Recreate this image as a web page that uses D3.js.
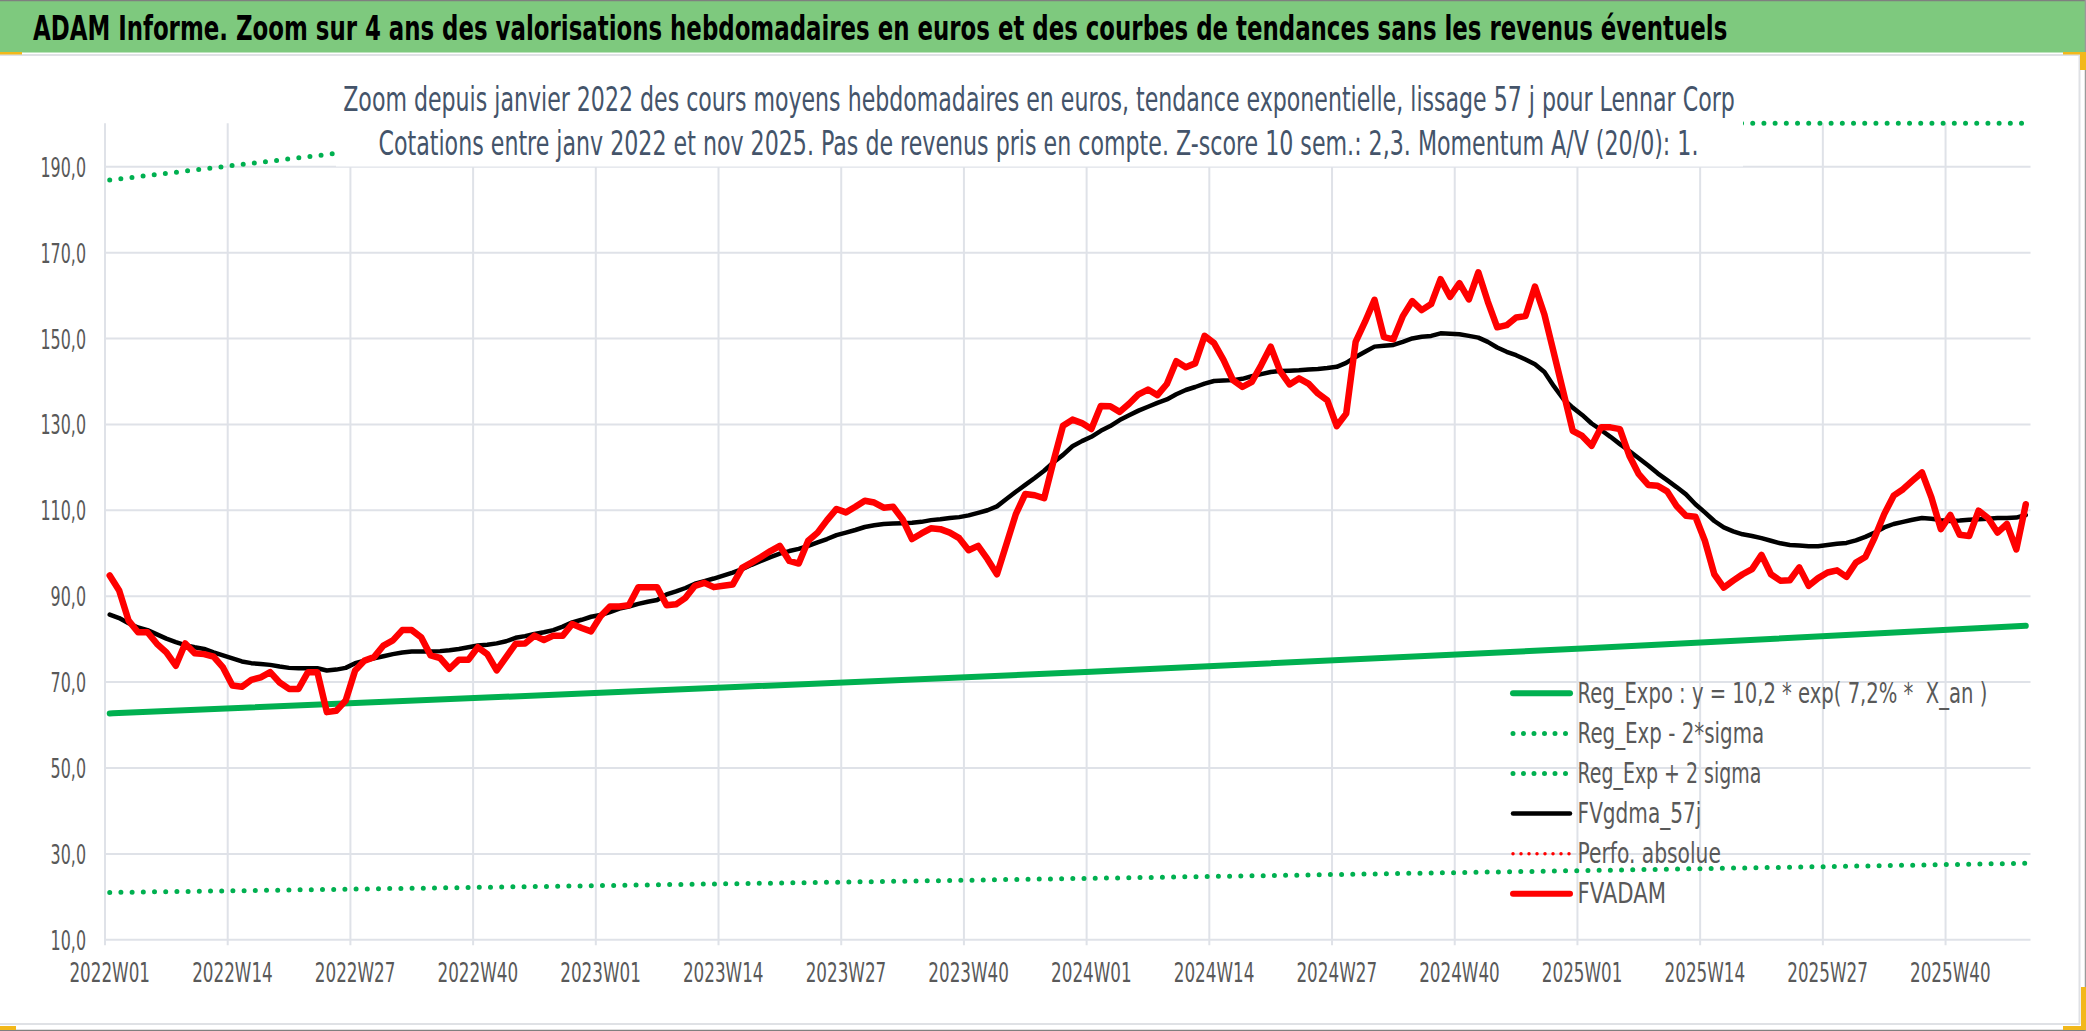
<!DOCTYPE html>
<html>
<head>
<script src="https://d3js.org/d3.v7.min.js"></script>
<style>
  body { margin: 0; background: #ffffff; }
  svg text { font-family: 'Liberation Sans Narrow', 'DejaVu Sans Condensed', 'Roboto Condensed', Roboto, sans-serif; white-space: pre; }
</style>
</head>
<body>
<script>
// weekly categories shown on the axis: 2022W01 .. 2025W48
var years = [2022, 2023, 2024, 2025];
var weeksShown = [52, 52, 52, 48];
var tickLabels = ["2022W01", "2022W14", "2022W27", "2022W40", "2023W01", "2023W14", "2023W27", "2023W40",
                  "2024W01", "2024W14", "2024W27", "2024W40", "2025W01", "2025W14", "2025W27", "2025W40"];
var yTicks = [10, 30, 50, 70, 90, 110, 130, 150, 170, 190];

// FVADAM : weekly average quote (euros)
var fvadam = [
  94.7, 91.2, 84.2, 81.5, 81.5, 78.8, 76.8, 73.7, 78.9, 76.6, 76.4, 75.8, 73.3, 69.1, 68.8, 70.4, 71.0, 72.2, 69.8, 68.3,
  68.3, 72.2, 72.2, 62.9, 63.2, 65.6, 72.6, 74.9, 75.7, 78.4, 79.6, 82.0, 82.0, 80.3, 76.1, 75.5, 73.0, 75.1, 75.1, 78.0,
  76.4, 72.6, 75.7, 78.8, 78.9, 80.7, 79.7, 80.7, 80.7, 83.4, 82.5, 81.7, 85.2, 87.5, 87.5, 87.8, 92.0, 92.0, 92.0, 87.8,
  88.0, 89.5, 92.3, 93.0, 92.0, 92.3, 92.6, 96.5, 97.7, 99.0, 100.4, 101.6, 98.1, 97.5, 102.8, 104.7, 107.6, 110.2, 109.4, 110.7,
  112.1, 111.7, 110.5, 110.7, 107.8, 103.2, 104.5, 105.7, 105.5, 104.7, 103.4, 100.6, 101.6, 98.5, 95.0, 102.0, 109.0, 113.7, 113.4, 112.7,
  121.4, 129.6, 131.0, 130.2, 128.8, 134.2, 134.1, 132.8, 134.7, 136.9, 138.0, 136.7, 139.3, 144.6, 143.2, 144.1, 150.5, 148.8, 144.9, 140.2,
  138.6, 139.8, 143.7, 148.0, 142.3, 139.2, 140.6, 139.4, 137.1, 135.5, 129.5, 132.4, 149.1, 153.8, 158.9, 150.2, 149.7, 155.1, 158.6, 156.5,
  157.9, 163.7, 159.6, 162.8, 159.0, 165.3, 158.5, 152.5, 153.0, 154.8, 155.1, 162.0, 155.5, 146.5, 137.5, 128.4, 127.2, 124.9, 129.2, 129.2,
  128.8, 122.6, 118.3, 115.8, 115.6, 114.3, 110.9, 108.6, 108.4, 102.8, 95.0, 91.9, 93.5, 95.0, 96.2, 99.5, 95.0, 93.5, 93.6, 96.6,
  92.3, 94.1, 95.4, 95.9, 94.4, 97.7, 99.0, 103.6, 109.0, 113.3, 114.8, 116.8, 118.7, 112.9, 105.5, 108.8, 104.2, 103.9, 109.8, 108.1,
  104.7, 106.7, 100.8, 111.3
];

// FVgdma_57j : smoothed curve
var fvgdma57 = [
  85.6, 84.8, 83.6, 82.6, 82.0, 81.0, 80.0, 79.2, 78.5, 78.0, 77.6, 76.8, 76.1, 75.4, 74.7, 74.3, 74.1, 73.9, 73.5, 73.2,
  73.1, 73.1, 73.1, 72.6, 72.8, 73.2, 74.3, 74.9, 75.4, 75.9, 76.4, 76.8, 77.0, 77.0, 77.0, 77.1, 77.3, 77.6, 78.0, 78.4,
  78.6, 78.9, 79.4, 80.2, 80.6, 81.1, 81.5, 82.0, 82.8, 83.8, 84.4, 85.1, 85.5, 86.2, 87.0, 87.5, 88.1, 88.6, 89.0, 90.3,
  91.0, 91.8, 92.8, 93.4, 94.0, 94.7, 95.4, 96.2, 97.2, 98.1, 99.0, 99.8, 100.4, 100.9, 101.6, 102.4, 103.2, 104.1, 104.7, 105.3,
  106.0, 106.4, 106.7, 106.8, 106.9, 107.0, 107.2, 107.6, 107.8, 108.1, 108.3, 108.7, 109.3, 109.9, 110.8, 112.5, 114.2, 115.8, 117.4, 119.1,
  121.1, 122.8, 124.8, 126.0, 127.0, 128.4, 129.5, 130.9, 132.0, 133.1, 134.0, 134.9, 135.7, 136.9, 137.9, 138.6, 139.4, 140.0, 140.1, 140.2,
  140.5, 141.1, 141.6, 142.1, 142.3, 142.4, 142.5, 142.7, 142.8, 143.0, 143.3, 144.2, 145.6, 146.8, 148.0, 148.2, 148.4, 149.1, 149.9, 150.3,
  150.5, 151.1, 151.0, 150.9, 150.5, 150.1, 149.1, 147.8, 146.8, 146.0, 145.0, 143.9, 142.1, 138.8, 135.8, 133.8, 132.1, 130.1, 128.6, 127.0,
  125.3, 123.7, 122.0, 120.3, 118.5, 116.9, 115.3, 113.6, 111.3, 109.4, 107.4, 105.9, 105.0, 104.3, 103.9, 103.4, 102.8, 102.2, 101.8, 101.7,
  101.5, 101.5, 101.8, 102.1, 102.3, 102.9, 103.7, 104.7, 105.9, 106.7, 107.2, 107.7, 108.1, 107.9, 107.6, 107.4, 107.5, 107.7, 107.8, 107.9,
  108.1, 108.1, 108.2, 108.8
];

// trend lines, read at a few weeks (position in the category list)
var trendWeeks = [0, 52, 104, 156, 203];
var regExpo = [62.6, 67.4, 72.3, 77.7, 83.0];
var regExpLow = [20.9, 22.5, 24.2, 26.0, 27.7];
// upper band: runs off the top of the plot (shown flat on the 200 edge)
var upperWeeks = [0, 24, 50, 203];
var regExpHigh = [186.8, 193.0, 200.0, 200.0];

var categories = [];
years.forEach(function(yr, k) {
    for (var w = 1; w <= weeksShown[k]; w++) {
        categories.push(yr + "W" + (w < 10 ? "0" + w : w));
    }
});

var W = 2086, H = 1031;
var plot = { left: 105, right: 2030.5, top: 123.3, bottom: 939.3 };

var svg = d3.select("body").append("svg")
    .attr("width", W)
    .attr("height", H);

// put a text at (x, y) and stretch it so it gets the measured width and a taller glyph
function fitText(parent, str, x, y, size, width, stretchY, anchor, weight, color) {
    var t = parent.append("text")
        .attr("x", 0).attr("y", 0)
        .attr("font-size", size)
        .attr("font-weight", weight || "normal")
        .attr("fill", color || "#000000")
        .attr("text-anchor", anchor || "start")
        .text(str);
    var w = t.node().getComputedTextLength();
    t.attr("transform", "translate(" + x + "," + y + ") scale(" + (width / w) + "," + stretchY + ")");
    return t;
}

// chart frame
svg.append("rect").attr("x", 0).attr("y", 0).attr("width", W).attr("height", H).attr("fill", "#ffffff");
svg.append("rect").attr("x", 0).attr("y", 0).attr("width", W).attr("height", 52.5).attr("fill", "#7ec97e");
svg.append("line").attr("x1", 0).attr("x2", W).attr("y1", 0.5).attr("y2", 0.5).attr("stroke", "#7f7f7f").attr("stroke-width", 1.5);
svg.append("line").attr("x1", 0).attr("x2", 2080).attr("y1", 55).attr("y2", 55).attr("stroke", "#dfe1e5").attr("stroke-width", 2);
svg.append("line").attr("x1", 2079.5).attr("x2", 2079.5).attr("y1", 55).attr("y2", 1024).attr("stroke", "#dfe1e5").attr("stroke-width", 2);
svg.append("line").attr("x1", 0).attr("x2", 2080).attr("y1", 1024).attr("y2", 1024).attr("stroke", "#dfe1e5").attr("stroke-width", 2);
svg.append("line").attr("x1", 0).attr("x2", W).attr("y1", 1030.5).attr("y2", 1030.5).attr("stroke", "#7f7f7f").attr("stroke-width", 1.5);
svg.append("line").attr("x1", 2085.5).attr("x2", 2085.5).attr("y1", 0).attr("y2", H).attr("stroke", "#9a9a9a").attr("stroke-width", 1.5);
// selection handles
[[0, 52, 22, 2.5], [2063, 52, 23, 2.5], [2080, 52, 6, 18], [2081, 987, 5, 43], [2063, 1026, 23, 4], [0, 1026, 16, 4]]
    .forEach(function(r) {
        svg.append("rect").attr("x", r[0]).attr("y", r[1]).attr("width", r[2]).attr("height", r[3]).attr("fill", "#f2b81b");
    });

fitText(svg, "ADAM Informe. Zoom sur 4 ans des valorisations hebdomadaires en euros et des courbes de tendances sans les revenus éventuels",
        33, 40, 28, 1695, 34 / 28, "start", "bold", "#000000");

// scales
var x = d3.scaleBand()
    .domain(categories)
    .range([plot.left, plot.right])
    .paddingInner(0)
    .paddingOuter(0);
var xc = function(i) { return x(categories[i]) + x.bandwidth() / 2; };
var y = d3.scaleLinear()
    .domain([10, 200])
    .range([plot.bottom, plot.top]);

var gridColor = "#dfe2e8";

// squeeze a set of labels horizontally so that a reference label gets its measured width
function squeeze(sel, refText, refWidth) {
    var k = 1;
    sel.each(function() {
        if (this.textContent === refText) k = refWidth / this.getComputedTextLength();
    });
    sel.each(function() {
        d3.select(this)
            .attr("textLength", this.getComputedTextLength() * k)
            .attr("lengthAdjust", "spacingAndGlyphs");
    });
}

// y axis with horizontal gridlines
var yAxis = svg.append("g")
    .attr("transform", "translate(" + plot.left + ",0)")
    .call(d3.axisLeft(y)
        .tickValues(yTicks)
        .tickSize(-(plot.right - plot.left))
        .tickPadding(19)
        .tickFormat(function(d) { return d3.format(".1f")(d).replace(".", ","); }));
yAxis.select(".domain").remove();
yAxis.selectAll(".tick line").attr("stroke", gridColor).attr("stroke-width", 2);
yAxis.selectAll(".tick text")
    .attr("font-family", null)
    .attr("font-size", 27)
    .attr("fill", "#595959")
    .attr("dy", "0.37em");
squeeze(yAxis.selectAll(".tick text"), "190,0", 45.5);

// x axis: gridline on the category edge, label on the category centre
var xAxis = svg.append("g")
    .attr("transform", "translate(0," + plot.bottom + ")")
    .call(d3.axisBottom(x)
        .tickValues(tickLabels)
        .tickSizeInner(0)
        .tickSizeOuter(0)
        .tickPadding(24));
xAxis.select(".domain").remove();
xAxis.selectAll(".tick line")
    .attr("x1", -x.bandwidth() / 2).attr("x2", -x.bandwidth() / 2)
    .attr("y1", 6).attr("y2", -(plot.bottom - plot.top))
    .attr("stroke", gridColor).attr("stroke-width", 2);
xAxis.selectAll(".tick text")
    .attr("font-family", null)
    .attr("font-size", 26)
    .attr("fill", "#595959");
squeeze(xAxis.selectAll(".tick text"), "2025W40", 80.6);

// series
var plotG = svg.append("g");
var line = d3.line()
    .x(function(d) { return xc(d[0]); })
    .y(function(d) { return y(d[1]); });
var smooth = d3.line()
    .curve(d3.curveMonotoneX)
    .x(function(d) { return xc(d[0]); })
    .y(function(d) { return y(d[1]); });

plotG.append("path")
    .datum(trendWeeks.map(function(w, k) { return [w, regExpo[k]]; }))
    .attr("d", smooth)
    .attr("fill", "none").attr("stroke", "#00b050").attr("stroke-width", 6).attr("stroke-linecap", "round");

plotG.append("path")
    .datum(trendWeeks.map(function(w, k) { return [w, regExpLow[k]]; }))
    .attr("d", smooth)
    .attr("fill", "none").attr("stroke", "#00b050").attr("stroke-width", 5)
    .attr("stroke-linecap", "round").attr("stroke-dasharray", "0 11.2");

plotG.append("path")
    .datum(upperWeeks.map(function(w, k) { return [w, regExpHigh[k]]; }))
    .attr("d", line)
    .attr("fill", "none").attr("stroke", "#00b050").attr("stroke-width", 5)
    .attr("stroke-linecap", "round").attr("stroke-dasharray", "0 11.2");

plotG.append("path")
    .datum(fvgdma57.map(function(v, i) { return [i, v]; }))
    .attr("d", line)
    .attr("fill", "none").attr("stroke", "#000000").attr("stroke-width", 4.5)
    .attr("stroke-linejoin", "round").attr("stroke-linecap", "round");

plotG.append("path")
    .datum(fvadam.map(function(v, i) { return [i, v]; }))
    .attr("d", line)
    .attr("fill", "none").attr("stroke", "#ff0000").attr("stroke-width", 6.5)
    .attr("stroke-linejoin", "round").attr("stroke-linecap", "round");

// chart title box (white fill, sits over the plot)
svg.append("rect")
    .attr("x", 336).attr("y", 76).attr("width", 1407).attr("height", 90.5)
    .attr("fill", "#ffffff");
fitText(svg, "Zoom depuis janvier 2022 des cours moyens hebdomadaires en euros, tendance exponentielle, lissage 57 j pour Lennar Corp",
        1039, 110.5, 28, 1392, 33 / 28, "middle", "normal", "#44546a");
fitText(svg, "Cotations entre janv 2022 et nov 2025. Pas de revenus pris en compte. Z-score 10 sem.: 2,3. Momentum A/V (20/0): 1.",
        1038.5, 154.5, 28, 1320, 33 / 28, "middle", "normal", "#44546a");

// legend
var legendItems = [
    { name: "Reg_Expo : y = 10,2 * exp( 7,2% *  X_an )", color: "#00b050", width: 6, dash: null, len: 410 },
    { name: "Reg_Exp - 2*sigma", color: "#00b050", width: 5, dash: "0 10.5", len: 186.6 },
    { name: "Reg_Exp + 2 sigma", color: "#00b050", width: 5, dash: "0 10.5", len: 183.7 },
    { name: "FVgdma_57j", color: "#000000", width: 4.5, dash: null, len: 123.8 },
    { name: "Perfo. absolue", color: "#ff0000", width: 3.5, dash: "0 8", len: 143.4 },
    { name: "FVADAM", color: "#ff0000", width: 6, dash: null, len: 88.4 }
];
var legend = svg.append("g").attr("transform", "translate(1511,693.3)");
legendItems.forEach(function(d, i) {
    var row = legend.append("g").attr("transform", "translate(0," + (i * 40.1) + ")");
    row.append("line")
        .attr("x1", 2).attr("x2", 59).attr("y1", 0).attr("y2", 0)
        .attr("stroke", d.color)
        .attr("stroke-width", d.width)
        .attr("stroke-linecap", "round")
        .attr("stroke-dasharray", d.dash);
    fitText(row, d.name, 66.6, 9.5, 24, d.len, 29 / 24, "start", "normal", "#595959");
});
</script>
</body>
</html>
